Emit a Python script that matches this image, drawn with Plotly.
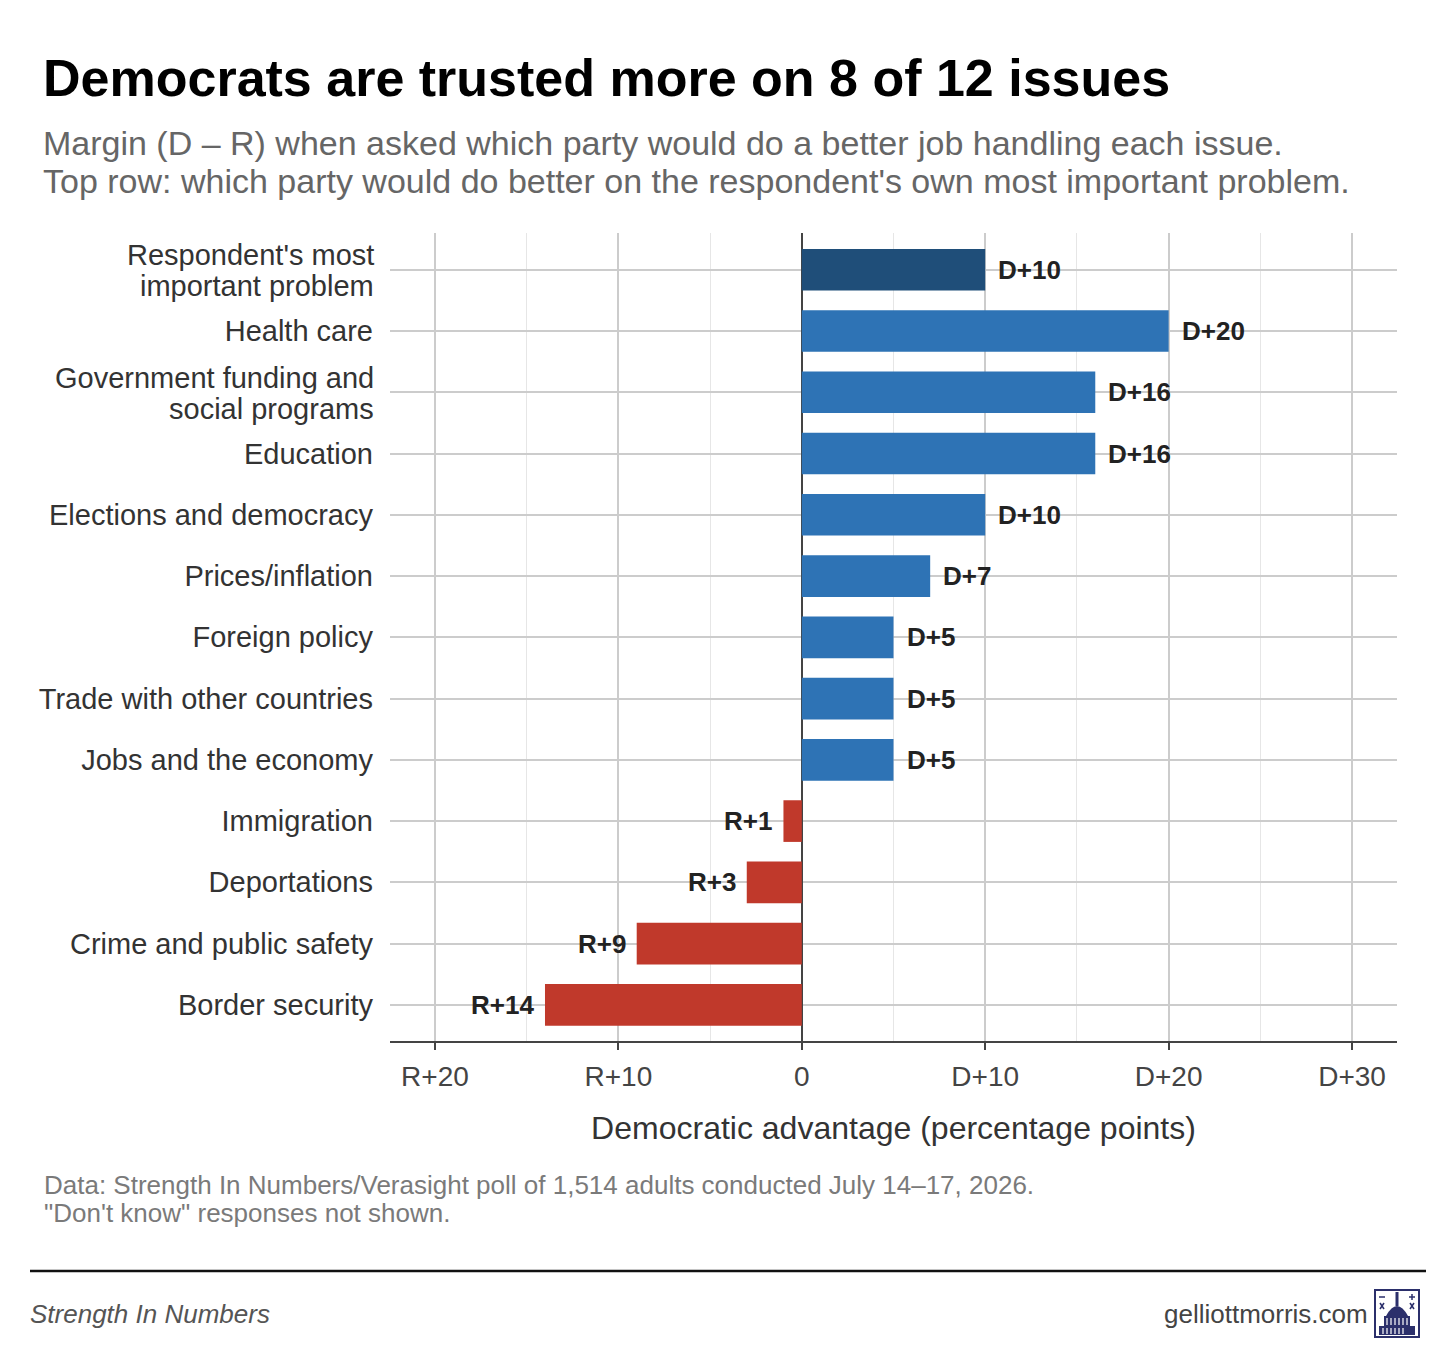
import plotly.graph_objects as go

# ---------------- data ----------------
issues = [
    "Respondent's most<br>important problem",
    "Health care",
    "Government funding and<br>social programs",
    "Education",
    "Elections and democracy",
    "Prices/inflation",
    "Foreign policy",
    "Trade with other countries",
    "Jobs and the economy",
    "Immigration",
    "Deportations",
    "Crime and public safety",
    "Border security",
]
margins = [10, 20, 16, 16, 10, 7, 5, 5, 5, -1, -3, -9, -14]
x_tickvals = [-20, -10, 0, 10, 20, 30]
x_ticktext = ["R+20", "R+10", "0", "D+10", "D+20", "D+30"]

title_text = "Democrats are trusted more on 8 of 12 issues"
subtitle_lines = [
    "Margin (D \u2013 R) when asked which party would do a better job handling each issue.",
    "Top row: which party would do better on the respondent's own most important problem.",
]
source_lines = [
    "Data: Strength In Numbers/Verasight poll of 1,514 adults conducted July 14\u201317, 2026.",
    "\"Don't know\" responses not shown.",
]

# ---------------- style ----------------
DARK = "#1f4e79"
BLUE = "#2e73b5"
RED = "#c0392b"
NAVY = "#2b2f6b"
FONT = "Liberation Sans, Arial, Helvetica, sans-serif"

W, H = 1456, 1352
L, R, T, B = 390, 1397, 233, 1041


def px(xp):
    return (xp - L) / (R - L)


def py(yp):
    return (B - yp) / (B - T)


ypos = list(range(len(issues)))
colors = [DARK] + [BLUE if v > 0 else RED for v in margins[1:]]

fig = go.Figure()
fig.add_trace(go.Bar(
    x=margins, y=ypos, orientation="h", width=0.68,
    marker=dict(color=colors, line=dict(width=0)),
    hoverinfo="skip", showlegend=False,
))

annotations = []
for y, v in zip(ypos, margins):
    lab = ("D+%d" % v) if v > 0 else ("R+%d" % (-v))
    annotations.append(dict(
        x=v, y=y, xref="x", yref="y", text="<b>%s</b>" % lab, showarrow=False,
        xanchor="left" if v > 0 else "right", yanchor="middle",
        xshift=11 if v > 0 else -9,
        font=dict(family=FONT, size=26, color="#222222"),
    ))

# y category labels: single-line via tick labels, multi-line via stacked annotations
LABEL_SIZE = 29
tick_text = []
for y, lab in zip(ypos, issues):
    parts = lab.split("<br>")
    if len(parts) == 1:
        tick_text.append(lab)
    else:
        tick_text.append("")
        for j, part in enumerate(parts):
            annotations.append(dict(
                x=px(376), y=y, xref="paper", yref="y", text=part, showarrow=False,
                xanchor="right", yanchor="middle",
                yshift=14.5 if j == 0 else -16.5,
                font=dict(family=FONT, size=LABEL_SIZE, color="#333333"),
            ))

# title / subtitle
annotations.append(dict(
    x=px(41), y=py(78), xref="paper", yref="paper", text="<b>%s</b>" % title_text,
    showarrow=False, xanchor="left", yanchor="middle",
    font=dict(family=FONT, size=52, color="#000000"),
))
for i, s in enumerate(subtitle_lines):
    annotations.append(dict(
        x=px(41), y=py(143 + 38 * i), xref="paper", yref="paper", text=s,
        showarrow=False, xanchor="left", yanchor="middle",
        font=dict(family=FONT, size=34, color="#666666"),
    ))
for i, s in enumerate(source_lines):
    annotations.append(dict(
        x=px(42), y=py(1185 + 28 * i), xref="paper", yref="paper", text=s,
        showarrow=False, xanchor="left", yanchor="middle",
        font=dict(family=FONT, size=26, color="#7a7a7a"),
    ))
annotations.append(dict(
    x=px(28), y=py(1314), xref="paper", yref="paper", text="<i>Strength In Numbers</i>",
    showarrow=False, xanchor="left", yanchor="middle",
    font=dict(family=FONT, size=26, color="#555555"),
))
annotations.append(dict(
    x=px(1370), y=py(1314), xref="paper", yref="paper", text="gelliottmorris.com",
    showarrow=False, xanchor="right", yanchor="middle",
    font=dict(family=FONT, size=26, color="#444444"),
))

shapes = []
# footer rule
shapes.append(dict(type="line", xref="paper", yref="paper",
                   x0=px(30), x1=px(1426), y0=py(1271), y1=py(1271),
                   line=dict(color="#111111", width=2.5)))


def rect(x0, y0, x1, y1, fill=NAVY, line=None):
    d = dict(type="rect", xref="paper", yref="paper",
             x0=px(x0), x1=px(x1), y0=py(y1), y1=py(y0),
             fillcolor=fill, line=dict(width=0))
    if line:
        d["line"] = line
    return d


def seg(x0, y0, x1, y1, w=2, c=NAVY):
    return dict(type="line", xref="paper", yref="paper",
                x0=px(x0), x1=px(x1), y0=py(y0), y1=py(y1),
                line=dict(color=c, width=w))


# simple capitol logo
shapes.append(rect(1375, 1290, 1419, 1337, fill="white", line=dict(color=NAVY, width=2)))
shapes.append(rect(1379, 1326, 1415, 1335))
shapes.append(rect(1384, 1316, 1410, 1326))
for cx in range(1387, 1410, 4):
    shapes.append(seg(cx, 1318, cx, 1325, w=1.2, c="white"))
    shapes.append(seg(cx - 4, 1328, cx - 4, 1334, w=1.2, c="white"))
shapes.append(dict(type="path", xref="paper", yref="paper",
                   path="M %f %f Q %f %f %f %f Z" % (px(1386), py(1316), px(1397), py(1296), px(1408), py(1316)),
                   fillcolor=NAVY, line=dict(width=0)))
shapes.append(rect(1395.5, 1292, 1398.5, 1306))
shapes.append(seg(1379, 1297, 1385, 1297, w=1.5))
shapes.append(seg(1380, 1303, 1384, 1309, w=1.5))
shapes.append(seg(1384, 1303, 1380, 1309, w=1.5))
shapes.append(seg(1409, 1297, 1415, 1297, w=1.5))
shapes.append(seg(1412, 1294, 1412, 1300, w=1.5))
shapes.append(seg(1410, 1303, 1414, 1309, w=1.5))
shapes.append(seg(1414, 1303, 1410, 1309, w=1.5))

fig.update_layout(
    width=W, height=H,
    margin=dict(l=L, r=W - R, t=T, b=H - B, pad=0),
    paper_bgcolor="white", plot_bgcolor="white",
    font=dict(family=FONT, color="#333333"),
    bargap=0.3,
    annotations=annotations,
    shapes=shapes,
    xaxis=dict(
        range=[-22.45, 32.45], tickvals=x_tickvals, ticktext=x_ticktext,
        showgrid=True, gridcolor="#cccccc", gridwidth=1.5,
        minor=dict(dtick=5, tick0=0, showgrid=True, gridcolor="#e6e6e6", gridwidth=1.2),
        zeroline=True, zerolinecolor="#444444", zerolinewidth=2,
        showline=True, linecolor="#444444", linewidth=2.2,
        ticks="outside", ticklen=7, tickwidth=2.2, tickcolor="#444444",
        ticklabelstandoff=2,
        tickfont=dict(family=FONT, size=28, color="#444444"),
        title=dict(text="Democratic advantage (percentage points)", standoff=26,
                   font=dict(family=FONT, size=32, color="#333333")),
        fixedrange=True,
    ),
    yaxis=dict(
        range=[12.59, -0.6], tickvals=ypos, ticktext=tick_text,
        showgrid=True, gridcolor="#cccccc", gridwidth=1.5,
        zeroline=False, showline=False, ticks="",
        ticklabelstandoff=16,
        tickfont=dict(family=FONT, size=LABEL_SIZE, color="#333333"),
        fixedrange=True,
    ),
)

fig.write_html("out.html")
